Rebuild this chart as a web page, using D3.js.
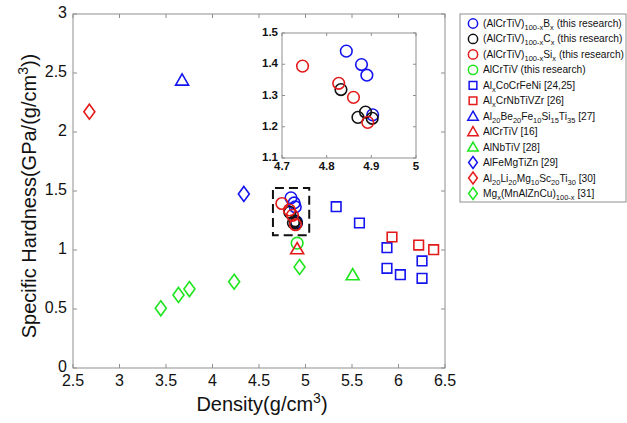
<!DOCTYPE html>
<html>
<head>
<meta charset="utf-8">
<script src="https://cdn.jsdelivr.net/npm/d3@7"></script>
<style>
  body { margin: 0; background: #fff; }
  svg { font-family: "Liberation Sans", Arial, sans-serif; }
</style>
</head>
<body>
<div id="chart"></div>
<script>
// Values (density g/cm3, specific hardness GPa/(g/cm3))
const boronDensity = [4.844, 4.878, 4.890, 4.903];
const boronHardness = [1.442, 1.399, 1.365, 1.238];
const carbonDensity = [4.832, 4.887, 4.870, 4.902];
const carbonHardness = [1.319, 1.247, 1.230, 1.227];
const siliconDensity = [4.746, 4.827, 4.860, 4.892];
const siliconHardness = [1.394, 1.339, 1.294, 1.214];
const baseDensity = [4.91];
const baseHardness = [1.058];
const coCrFeNiDensity = [5.33, 5.58, 5.876, 5.876, 6.02, 6.253, 6.253];
const coCrFeNiHardness = [1.367, 1.229, 1.020, 0.845, 0.791, 0.907, 0.760];
const crNbTiVZrDensity = [5.93, 6.217, 6.378];
const crNbTiVZrHardness = [1.110, 1.042, 1.003];
const alBeDensity = [3.673];
const alBeHardness = [2.44];
const alCrTiVDensity = [4.91];
const alCrTiVHardness = [1.01];
const alNbTiVDensity = [5.507];
const alNbTiVHardness = [0.79];
const alFeMgDensity = [4.337];
const alFeMgHardness = [1.475];
const alLiDensity = [2.676];
const alLiHardness = [2.172];
const mgDensity = [3.444, 3.634, 3.752, 4.233, 4.936];
const mgHardness = [0.506, 0.619, 0.669, 0.731, 0.856];

const xTicks = [2.5, 3, 3.5, 4, 4.5, 5, 5.5, 6, 6.5];
const yTicks = [0, 0.5, 1, 1.5, 2, 2.5, 3];
const insetXTicks = [4.7, 4.8, 4.9, 5];
const insetYTicks = [1.1, 1.2, 1.3, 1.4, 1.5];
// zoomed region marked with the dashed box
const zoomX = [4.65, 5.04];
const zoomY = [1.125, 1.525];

// Legend labels: [text, "sub"|null]
const labels = [
  [["(AlCrTiV)"], ["100-x", "sub"], ["B"], ["x", "sub"], [" (this research)"]],
  [["(AlCrTiV)"], ["100-x", "sub"], ["C"], ["x", "sub"], [" (this research)"]],
  [["(AlCrTiV)"], ["100-x", "sub"], ["Si"], ["x", "sub"], [" (this research)"]],
  [["AlCrTiV (this research)"]],
  [["Al"], ["x", "sub"], ["CoCrFeNi [24,25]"]],
  [["Al"], ["x", "sub"], ["CrNbTiVZr [26]"]],
  [["Al"], ["20", "sub"], ["Be"], ["20", "sub"], ["Fe"], ["10", "sub"], ["Si"], ["15", "sub"], ["Ti"], ["35", "sub"], [" [27]"]],
  [["AlCrTiV [16]"]],
  [["AlNbTiV [28]"]],
  [["AlFeMgTiZn [29]"]],
  [["Al"], ["20", "sub"], ["Li"], ["20", "sub"], ["Mg"], ["10", "sub"], ["Sc"], ["20", "sub"], ["Ti"], ["30", "sub"], [" [30]"]],
  [["Mg"], ["x", "sub"], ["(MnAlZnCu)"], ["100-x", "sub"], [" [31]"]],
];

const BLUE = "#1414f0", RED = "#e41a1a", GREEN = "#1ee61e", BLACK = "#111";

const series = [
  { xs: boronDensity, ys: boronHardness, shape: "circle", color: BLUE, inset: true },
  { xs: carbonDensity, ys: carbonHardness, shape: "circle", color: BLACK, inset: true },
  { xs: siliconDensity, ys: siliconHardness, shape: "circle", color: RED, inset: true },
  { xs: baseDensity, ys: baseHardness, shape: "circle", color: GREEN },
  { xs: coCrFeNiDensity, ys: coCrFeNiHardness, shape: "square", color: BLUE },
  { xs: crNbTiVZrDensity, ys: crNbTiVZrHardness, shape: "square", color: RED },
  { xs: alBeDensity, ys: alBeHardness, shape: "triangle", color: BLUE },
  { xs: alCrTiVDensity, ys: alCrTiVHardness, shape: "triangle", color: RED },
  { xs: alNbTiVDensity, ys: alNbTiVHardness, shape: "triangle", color: GREEN },
  { xs: alFeMgDensity, ys: alFeMgHardness, shape: "diamond", color: BLUE },
  { xs: alLiDensity, ys: alLiHardness, shape: "diamond", color: RED },
  { xs: mgDensity, ys: mgHardness, shape: "diamond", color: GREEN },
].map((s, i) => ({ ...s, label: labels[i] }));

// Marker outlines, MATLAB-like proportions
function markerPath(shape, k = 1) {
  if (shape === "circle") {
    const r = 5.8 * k;
    return `M${-r},0A${r},${r} 0 1,0 ${r},0A${r},${r} 0 1,0 ${-r},0Z`;
  }
  if (shape === "square") {
    const h = 4.8 * k;
    return `M${-h},${-h}H${h}V${h}H${-h}Z`;
  }
  if (shape === "triangle") {
    return `M0,${-6.3 * k}L${6.5 * k},${5 * k}L${-6.5 * k},${5 * k}Z`;
  }
  return `M0,${-7.5 * k}L${5.5 * k},0L0,${7.5 * k}L${-5.5 * k},0Z`;
}

const W = 627, H = 423;
const svg = d3.select("#chart").append("svg").attr("width", W).attr("height", H);

const x = d3.scaleLinear().domain([2.5, 6.5]).range([73, 445]);
const y = d3.scaleLinear().domain([0, 3]).range([368, 14]);
const AXIS = "#8f8f8f";

// Axes with inside ticks on all four sides
function boxAxes(g, xs, ys, xt, yt, fx, fy, tick, font) {
  const [x0, x1] = xs.range(), [y0, y1] = ys.range();
  g.append("rect").attr("x", x0).attr("y", y1).attr("width", x1 - x0).attr("height", y0 - y1)
    .attr("fill", "#fff").attr("stroke", AXIS).attr("stroke-width", 1);
  xt.forEach((v) => {
    g.append("line").attr("x1", xs(v)).attr("x2", xs(v)).attr("y1", y0).attr("y2", y0 - tick).attr("stroke", AXIS);
    g.append("line").attr("x1", xs(v)).attr("x2", xs(v)).attr("y1", y1).attr("y2", y1 + tick).attr("stroke", AXIS);
  });
  yt.forEach((v) => {
    g.append("line").attr("x1", x0).attr("x2", x0 + tick).attr("y1", ys(v)).attr("y2", ys(v)).attr("stroke", AXIS);
    g.append("line").attr("x1", x1).attr("x2", x1 - tick).attr("y1", ys(v)).attr("y2", ys(v)).attr("stroke", AXIS);
  });
  g.append("g").selectAll("text").data(xt).join("text")
    .attr("x", (d) => xs(d)).attr("y", y0 + font.dy)
    .attr("text-anchor", "middle").attr("dominant-baseline", "middle")
    .style("font-size", font.size).style("font-weight", font.weight).attr("fill", "#111")
    .text(fx);
  g.append("g").selectAll("text").data(yt).join("text")
    .attr("x", x0 - font.dx).attr("y", (d) => ys(d))
    .attr("text-anchor", "end").attr("dominant-baseline", "middle")
    .style("font-size", font.size).style("font-weight", font.weight).attr("fill", "#111")
    .text(fy);
}

const main = svg.append("g");
boxAxes(main, x, y, xTicks, yTicks, (d) => d, (d) => d, 4, { size: "16px", weight: 400, dy: 14, dx: 6 });

// Axis titles
main.append("text").attr("x", 262).attr("y", 411).attr("text-anchor", "middle")
  .style("font-size", "20px").attr("fill", "#111")
  .call((t) => {
    t.append("tspan").text("Density(g/cm");
    t.append("tspan").attr("dy", -8).style("font-size", "14px").text("3");
    t.append("tspan").attr("dy", 8).text(")");
  });
main.append("text").attr("transform", "translate(36,196) rotate(-90)").attr("text-anchor", "middle")
  .style("font-size", "20px").attr("fill", "#111")
  .call((t) => {
    t.append("tspan").text("Specific Hardness(GPa/(g/cm");
    t.append("tspan").attr("dy", -8).style("font-size", "14px").text("3");
    t.append("tspan").attr("dy", 8).text("))");
  });

function drawPoints(g, s, xs, ys) {
  g.selectAll(null).data(s.xs.map((v, i) => [v, s.ys[i]])).join("path")
    .attr("d", markerPath(s.shape))
    .attr("transform", (d) => `translate(${xs(d[0])},${ys(d[1])})`)
    .attr("fill", "none").attr("stroke", s.color).attr("stroke-width", 1.6);
}

const pts = main.append("g");
series.forEach((s) => drawPoints(pts, s, x, y));

// Dashed zoom box
main.append("rect")
  .attr("x", x(zoomX[0])).attr("y", y(zoomY[1]))
  .attr("width", x(zoomX[1]) - x(zoomX[0])).attr("height", y(zoomY[0]) - y(zoomY[1]))
  .attr("fill", "none").attr("stroke", "#111").attr("stroke-width", 2)
  .attr("stroke-dasharray", "9,5").attr("stroke-dashoffset", -2);

// Inset
const ix = d3.scaleLinear().domain([4.7, 5]).range([282, 416]);
const iy = d3.scaleLinear().domain([1.1, 1.5]).range([158, 33]);
const inset = svg.append("g");
boxAxes(inset, ix, iy, insetXTicks, insetYTicks, (d) => d, d3.format(".1f"), 3,
  { size: "11.5px", weight: 700, dy: 9, dx: 4 });
const ipts = inset.append("g");
series.filter((s) => s.inset).forEach((s) => drawPoints(ipts, s, ix, iy));

// Legend
const leg = svg.append("g");
const legTop = 14, legLeft = 460, rowH = 15.45;
leg.append("rect").attr("x", legLeft).attr("y", legTop).attr("width", 166).attr("height", 188)
  .attr("fill", "#fff").attr("stroke", AXIS);
series.forEach((s, i) => {
  const cy = legTop + 9.5 + i * rowH;
  leg.append("path").attr("d", markerPath(s.shape, 0.8))
    .attr("transform", `translate(473,${cy})`)
    .attr("fill", "none").attr("stroke", s.color).attr("stroke-width", 1.5);
  const t = leg.append("text").attr("x", 483).attr("y", cy + 3.5)
    .style("font-size", "10.2px").attr("fill", "#111");
  s.label.forEach(([txt, kind]) => {
    if (kind === "sub") {
      t.append("tspan").attr("dy", 3).style("font-size", "7.5px").text(txt);
    } else {
      const sp = t.append("tspan").text(txt);
      // return to baseline after a subscript
      if (t.selectAll("tspan").size() > 1) sp.attr("dy", -3);
    }
  });
});
</script>
</body>
</html>
